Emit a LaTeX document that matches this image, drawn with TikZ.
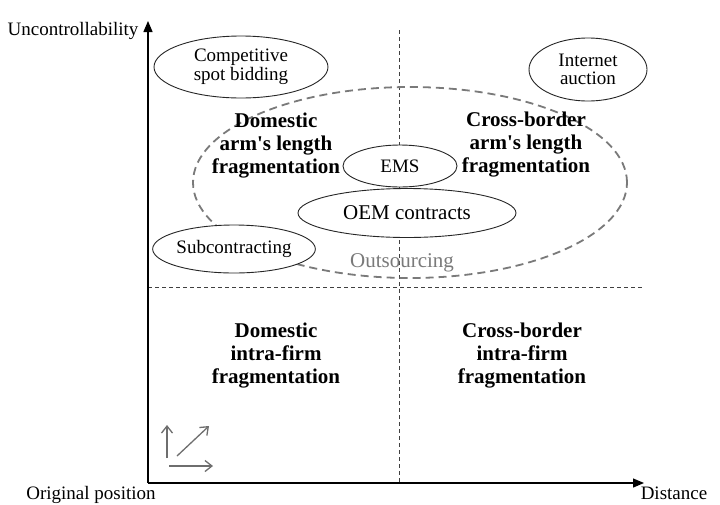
\documentclass[tikz,border=0pt]{standalone}
\usepackage{fontspec}
\setmainfont{Liberation Serif}
\usetikzlibrary{shapes.geometric,arrows.meta}
\definecolor{dashgray}{HTML}{7A7A7A}
\definecolor{tipgray}{HTML}{6E6E6E}
\begin{document}
\begin{tikzpicture}[x=1pt,y=-1pt,
  lbl/.style={font=\fontsize{19}{18.5}\selectfont},
  quad/.style={font=\fontsize{21}{23}\selectfont\bfseries, align=center},
  oval/.style={draw=black!85, ellipse, fill=white, line width=0.9pt, inner sep=0pt,
    align=center, font=\fontsize{19}{18.5}\selectfont},
  axis/.style={line width=1.3pt, -{Triangle[length=11pt,width=9pt]}},
  divider/.style={draw=black!75, line width=0.9pt, dash pattern=on 4pt off 3pt},
  hint/.style={draw=tipgray, line width=1.3pt, -{Straight Barb[length=7pt,width=11pt]}}
]
\useasboundingbox[fill=white] (0,0) rectangle (720,504);

% frame points
\coordinate (O) at (148,483);
\coordinate (ytip) at (148,21);
\coordinate (xtip) at (644,483);
\coordinate (vtop) at (399,30);
\coordinate (vbot) at (399,483);
\coordinate (hl) at (148,287);
\coordinate (hr) at (644,287);

% quadrant dividers
\draw[divider] (vtop) -- (vbot);
\draw[divider] (hl) -- (hr);

% outsourcing region
\node[ellipse, draw=dashgray, line width=1.8pt, dash pattern=on 8pt off 5pt,
  minimum width=434pt, minimum height=191pt, inner sep=0pt] (outs) at (410,182.5) {};

% quadrant titles
\node[quad] (dal) at (276,146) {Domestic\\arm\textquotesingle s length\\fragmentation};
\node[quad] (cal) at (526,145) {Cross-border\\arm\textquotesingle s length\\fragmentation};
\node[quad] (dif) at (276,356) {Domestic\\intra-firm\\fragmentation};
\node[quad] (cif) at (522,356) {Cross-border\\intra-firm\\fragmentation};

% governance forms
\node[oval, minimum width=174pt, minimum height=62pt] (spot) at (241,67) {Competitive\\spot bidding};
\node[oval, minimum width=118pt, minimum height=63pt] (web) at (588,69.5) {Internet\\auction};
\node[oval, minimum width=114pt, minimum height=42pt] (ems) at (400,166) {EMS};
\node[oval, minimum width=218pt, minimum height=49pt, font=\fontsize{21}{21}\selectfont] (oem) at (407,213) {OEM contracts};
\node[oval, minimum width=160pt, minimum height=48pt] (sub) at (234,249) {Subcontracting};

\node[text=dashgray, font=\fontsize{21}{21}\selectfont] (outslbl) at (402,263) {Outsourcing};

% axes
\draw[axis] (O) -- (ytip);
\draw[axis] (O) -- (xtip);
\node[lbl, anchor=base east] (ylab) at (142,35) {Uncontrollability};
\node[lbl, anchor=base] (olab) at (91,499) {Original position};
\node[lbl, anchor=base] (xlab) at (674,499) {Distance};

% direction hints
\coordinate (u0) at (167,458);
\coordinate (u1) at (167,425);
\coordinate (d0) at (177,456);
\coordinate (d1) at (209,426);
\coordinate (r0) at (169,466);
\coordinate (r1) at (213,466);
\draw[hint] (u0) -- (u1);
\draw[hint] (d0) -- (d1);
\draw[hint] (r0) -- (r1);
\end{tikzpicture}
\end{document}
